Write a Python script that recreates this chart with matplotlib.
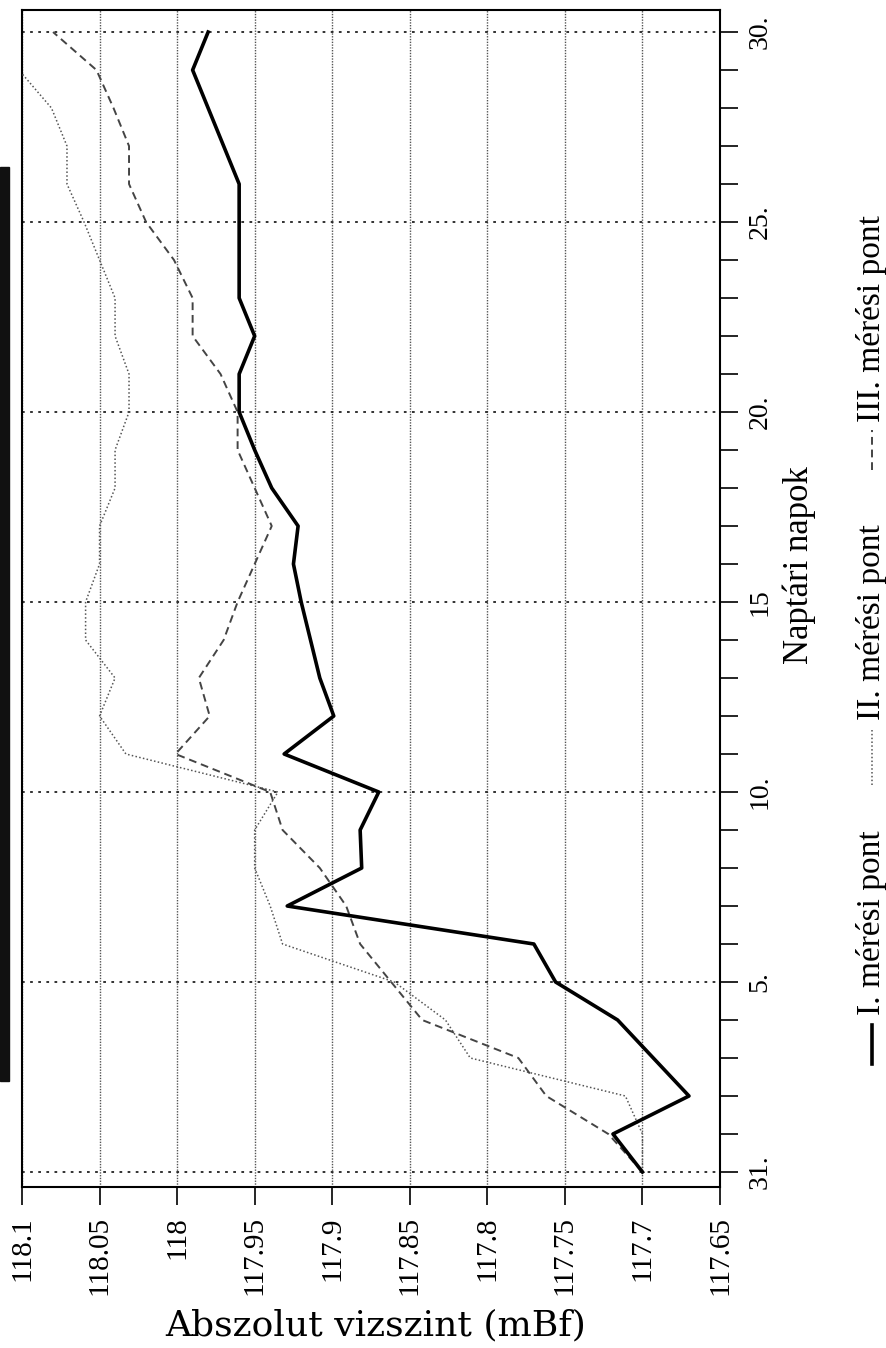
import numpy as np
import matplotlib.pyplot as plt
from matplotlib.lines import Line2D
from matplotlib.patches import Rectangle

W, H = 887, 1348

# ===== adatok: napok (31 = előző hónap utolsó napja, majd 1..30) =====
days = np.arange(31)
day_tick_pos = [0, 5, 10, 15, 20, 25, 30]
day_tick_labels = ['31.', '5.', '10.', '15', '20.', '25.', '30.']

level_ticks = [118.1, 118.05, 118.0, 117.95, 117.9, 117.85, 117.8, 117.75, 117.7, 117.65]
level_tick_labels = ['118.1', '118.05', '118', '117.95', '117.9', '117.85',
                     '117.8', '117.75', '117.7', '117.65']

# I. mérési pont (mBf)
level_I = [117.700, 117.719, 117.670, 117.693, 117.716, 117.756, 117.770, 117.929,
           117.881, 117.882, 117.870, 117.931, 117.899, 117.908, 117.914, 117.920,
           117.925, 117.922, 117.939, 117.950, 117.960, 117.960, 117.950, 117.960,
           117.960, 117.960, 117.960, 117.970, 117.980, 117.990, 117.980]
# II. mérési pont
level_II = [117.700, 117.700, 117.711, 117.811, 117.827, 117.860, 117.932, 117.940,
            117.950, 117.950, 117.935, 118.033, 118.050, 118.040, 118.059, 118.059,
            118.050, 118.050, 118.040, 118.040, 118.031, 118.031, 118.040, 118.040,
            118.050, 118.060, 118.071, 118.071, 118.081, 118.102, 118.120]
# III. mérési pont
level_III = [117.700, 117.722, 117.762, 117.780, 117.842, 117.862, 117.882, 117.891,
             117.908, 117.932, 117.940, 118.001, 117.979, 117.986, 117.970, 117.961,
             117.950, 117.939, 117.950, 117.961, 117.961, 117.972, 117.990, 117.990,
             118.002, 118.020, 118.031, 118.031, 118.041, 118.052, 118.080]

legend_labels = ['I. mérési pont', 'II. mérési pont', 'III. mérési pont']

style_I = dict(color='black', lw=2.6, linestyle='-')
style_II = dict(color='#555555', lw=1.1, linestyle=(0, (1, 1.5)))
style_III = dict(color='#444444', lw=1.4, linestyle=(0, (4, 2.5)))

SERIF = 'Liberation Serif'


def px(x, y):
    return x / W, 1 - y / H


fig = plt.figure(figsize=(W / 100, H / 100), dpi=100)
ax = fig.add_axes([22 / W, (H - 1187) / H, 698 / W, 1177 / H])

ax.plot(level_I, days, **style_I, zorder=4)
ax.plot(level_II, days, **style_II, zorder=3)
ax.plot(level_III, days, **style_III, zorder=3)

ax.set_xlim(118.1, 117.65)
ax.set_ylim(-0.395, 30.58)

ax.set_xticks(level_ticks)
ax.set_xticklabels(level_tick_labels, rotation=90, fontsize=21, family=SERIF)
ax.tick_params(axis='x', direction='out', length=13, width=1.2, pad=8)

ax.yaxis.tick_right()
ax.set_yticks(day_tick_pos)
ax.set_yticks(days, minor=True)
ax.set_yticklabels(day_tick_labels, rotation=90, va='center', fontsize=20, family=SERIF)
ax.tick_params(axis='y', which='both', direction='out', length=13, width=1.2, pad=7)

ax.xaxis.grid(True, linestyle=(0, (1, 1)), color='#555555', lw=1.0)
ax.yaxis.grid(True, linestyle=(0, (1.5, 3)), color='#222222', lw=1.3)
ax.set_axisbelow(True)
for s in ax.spines.values():
    s.set_linewidth(1.5)

# tengelyfeliratok
fig.text(*px(376, 1325), 'Abszolut vizszint (mBf)', ha='center', va='center',
         fontsize=26, family='DejaVu Serif')
fig.text(*px(799, 565), 'Naptári napok', rotation=90, ha='center', va='center',
         fontsize=25, family=SERIF)

# jelmagyarázat (elforgatva)
lx = 872
entries = [(style_I, 1064, 1025, 1015), (style_II, 785, 730, 720), (style_III, 470, 430, 422)]
for (st, y0, y1, yt), lab in zip(entries, legend_labels):
    fig.add_artist(Line2D([lx / W, lx / W], [1 - y0 / H, 1 - y1 / H],
                          transform=fig.transFigure, **st))
    fig.text(*px(lx, yt), lab, rotation=90, rotation_mode='anchor',
             ha='left', va='center', fontsize=24, family=SERIF)

# szkennelési sáv a bal szélen
fig.add_artist(Rectangle(px(0, 1081), 9 / W, (1081 - 167) / H,
                         transform=fig.transFigure, color='#111111'))

fig.savefig('out.png', dpi=100)
